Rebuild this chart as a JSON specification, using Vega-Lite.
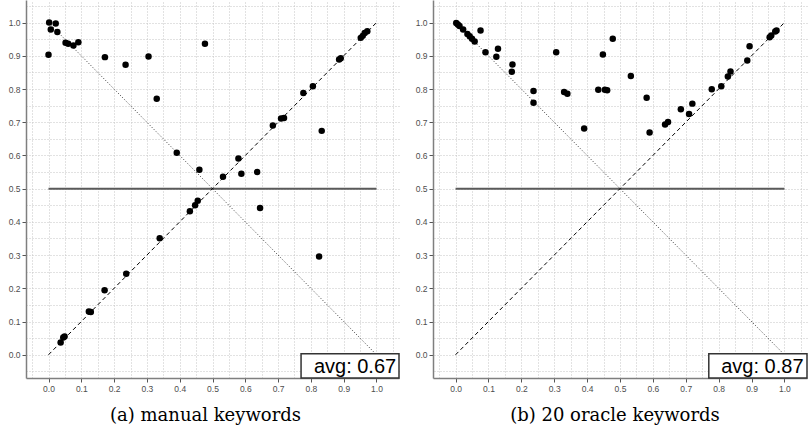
{
  "$schema": "https://vega.github.io/schema/vega-lite/v6.json",
  "padding": {"left": 8, "top": 0, "right": 0, "bottom": 0},
  "spacing": 15,
  "background": "white",
  "datasets": {
    "left": [
      {"x":0.002,"y":1.0},{"x":0.007,"y":0.979},{"x":0.022,"y":0.997},{"x":0.027,"y":0.972},{"x":0.0,"y":0.903},
      {"x":0.052,"y":0.939},{"x":0.06,"y":0.936},{"x":0.076,"y":0.931},{"x":0.091,"y":0.941},{"x":0.172,"y":0.896},
      {"x":0.235,"y":0.873},{"x":0.305,"y":0.898},{"x":0.33,"y":0.771},{"x":0.391,"y":0.608},{"x":0.46,"y":0.557},
      {"x":0.477,"y":0.936},{"x":0.972,"y":0.974},{"x":0.964,"y":0.969},{"x":0.952,"y":0.954},{"x":0.958,"y":0.96},
      {"x":0.891,"y":0.893},{"x":0.886,"y":0.889},{"x":0.806,"y":0.808},{"x":0.777,"y":0.788},{"x":0.718,"y":0.713},
      {"x":0.709,"y":0.711},{"x":0.684,"y":0.69},{"x":0.833,"y":0.674},{"x":0.579,"y":0.591},{"x":0.588,"y":0.545},
      {"x":0.636,"y":0.55},{"x":0.532,"y":0.536},{"x":0.645,"y":0.442},{"x":0.825,"y":0.296},{"x":0.037,"y":0.037},
      {"x":0.045,"y":0.052},{"x":0.049,"y":0.055},{"x":0.123,"y":0.13},{"x":0.129,"y":0.129},{"x":0.171,"y":0.194},
      {"x":0.237,"y":0.244},{"x":0.339,"y":0.351},{"x":0.431,"y":0.432},{"x":0.447,"y":0.45},{"x":0.455,"y":0.464}
    ],
    "right": [
      {"x":0.002,"y":0.999},{"x":0.007,"y":0.994},{"x":0.012,"y":0.99},{"x":0.023,"y":0.979},{"x":0.036,"y":0.966},
      {"x":0.043,"y":0.959},{"x":0.05,"y":0.951},{"x":0.058,"y":0.943},{"x":0.076,"y":0.976},{"x":0.091,"y":0.911},
      {"x":0.124,"y":0.897},{"x":0.129,"y":0.921},{"x":0.173,"y":0.874},{"x":0.171,"y":0.852},{"x":0.237,"y":0.794},
      {"x":0.237,"y":0.759},{"x":0.306,"y":0.911},{"x":0.33,"y":0.791},{"x":0.34,"y":0.786},{"x":0.391,"y":0.681},
      {"x":0.434,"y":0.798},{"x":0.478,"y":0.951},{"x":0.448,"y":0.904},{"x":0.454,"y":0.798},{"x":0.461,"y":0.796},
      {"x":0.533,"y":0.839},{"x":0.581,"y":0.774},{"x":0.59,"y":0.669},{"x":0.637,"y":0.693},{"x":0.646,"y":0.701},
      {"x":0.685,"y":0.739},{"x":0.71,"y":0.725},{"x":0.72,"y":0.756},{"x":0.779,"y":0.799},{"x":0.808,"y":0.808},
      {"x":0.828,"y":0.838},{"x":0.836,"y":0.853},{"x":0.887,"y":0.886},{"x":0.894,"y":0.929},{"x":0.955,"y":0.956},
      {"x":0.96,"y":0.961},{"x":0.972,"y":0.973},{"x":0.976,"y":0.976}
    ],
    "refs": [
      {"line":"identity","x":0,"y":0,"x2":1,"y2":1},
      {"line":"inverse","x":0,"y":1,"x2":1,"y2":0},
      {"line":"half","x":0,"y":0.5,"x2":1,"y2":0.5}
    ],
    "boxes": [
      {"panel":"a","label":"avg: 0.67","x":0.77,"x2":1.0686,"y":-0.07,"y2":0.003,"tx":1.06,"ty":-0.054},
      {"panel":"b","label":"avg: 0.87","x":0.77,"x2":1.0686,"y":-0.07,"y2":0.003,"tx":1.058,"ty":-0.054}
    ]
  },
  "hconcat": [
    {
      "width": 373,
      "height": 378,
      "title": {"text": "(a) manual keywords", "orient": "bottom", "dx": -7},
      "layer": [
        {
          "data": {"name": "refs"},
          "transform": [{"filter": "datum.line == 'half'"}],
          "mark": {"type": "rule", "color": "#5a5a5a", "strokeWidth": 2},
          "encoding": {
            "x": {"field": "x", "type": "quantitative",
                  "scale": {"domain": [-0.0686, 1.0686], "nice": false, "zero": false},
                  "axis": {"orient": "bottom", "grid": false, "format": ".1f", "values": [0,0.1,0.2,0.3,0.4,0.5,0.6,0.7,0.8,0.9,1]}},
            "x2": {"field": "x2"},
            "y": {"field": "y", "type": "quantitative",
                  "scale": {"domain": [-0.07, 1.068], "nice": false, "zero": false},
                  "axis": {"orient": "left", "grid": false, "format": ".1f", "values": [0,0.1,0.2,0.3,0.4,0.5,0.6,0.7,0.8,0.9,1]}},
            "y2": {"field": "y2"}
          }
        },
        {
          "data": {"name": "refs"},
          "transform": [{"filter": "datum.line == 'identity'"}],
          "mark": {"type": "rule", "color": "#000", "strokeWidth": 1, "strokeDash": [4, 3]},
          "encoding": {
            "x": {"field": "x", "type": "quantitative",
                  "axis": {"orient": "top", "grid": true, "domain": false, "ticks": false, "labels": false, "minExtent": 0, "maxExtent": 0,
                           "values": [-0.05,0,0.05,0.1,0.15,0.2,0.25,0.3,0.35,0.4,0.45,0.5,0.55,0.6,0.65,0.7,0.75,0.8,0.85,0.9,0.95,1,1.05]}},
            "x2": {"field": "x2"},
            "y": {"field": "y", "type": "quantitative",
                  "axis": {"orient": "right", "grid": true, "domain": false, "ticks": false, "labels": false, "minExtent": 0, "maxExtent": 0,
                           "values": [-0.05,0,0.05,0.1,0.15,0.2,0.25,0.3,0.35,0.4,0.45,0.5,0.55,0.6,0.65,0.7,0.75,0.8,0.85,0.9,0.95,1,1.05]}},
            "y2": {"field": "y2"}
          }
        },
        {
          "data": {"name": "refs"},
          "transform": [{"filter": "datum.line == 'inverse'"}],
          "mark": {"type": "rule", "color": "#333", "strokeWidth": 1, "strokeDash": [1, 2]},
          "encoding": {"x": {"field": "x", "type": "quantitative", "axis": null}, "x2": {"field": "x2"}, "y": {"field": "y", "type": "quantitative", "axis": null}, "y2": {"field": "y2"}}
        },
        {
          "data": {"name": "left"},
          "mark": {"type": "point", "filled": true, "color": "#000", "size": 42, "opacity": 1},
          "encoding": {"x": {"field": "x", "type": "quantitative", "axis": null}, "y": {"field": "y", "type": "quantitative", "axis": null}}
        },
        {
          "data": {"name": "boxes"},
          "transform": [{"filter": "datum.panel == 'a'"}],
          "mark": {"type": "rect", "fill": "white", "stroke": "#333", "strokeWidth": 1.5},
          "encoding": {"x": {"field": "x", "type": "quantitative", "axis": null}, "x2": {"field": "x2"}, "y": {"field": "y", "type": "quantitative", "axis": null}, "y2": {"field": "y2"}}
        },
        {
          "data": {"name": "boxes"},
          "transform": [{"filter": "datum.panel == 'a'"}],
          "mark": {"type": "text", "font": "Liberation Sans", "fontSize": 20, "align": "right", "baseline": "alphabetic", "color": "#000"},
          "encoding": {"x": {"field": "tx", "type": "quantitative", "axis": null}, "y": {"field": "ty", "type": "quantitative", "axis": null}, "text": {"field": "label"}}
        },
        {
          "mark": {"type": "rule", "color": "#808080", "strokeWidth": 1.5},
          "encoding": {"x": {"datum": 1.0686, "type": "quantitative", "axis": null}}
        }
      ]
    },
    {
      "width": 374,
      "height": 378,
      "title": {"text": "(b) 20 oracle keywords", "orient": "bottom", "dx": -5},
      "layer": [
        {
          "data": {"name": "refs"},
          "transform": [{"filter": "datum.line == 'half'"}],
          "mark": {"type": "rule", "color": "#5a5a5a", "strokeWidth": 2},
          "encoding": {
            "x": {"field": "x", "type": "quantitative",
                  "scale": {"domain": [-0.0686, 1.0686], "nice": false, "zero": false},
                  "axis": {"orient": "bottom", "grid": false, "format": ".1f", "values": [0,0.1,0.2,0.3,0.4,0.5,0.6,0.7,0.8,0.9,1]}},
            "x2": {"field": "x2"},
            "y": {"field": "y", "type": "quantitative",
                  "scale": {"domain": [-0.07, 1.068], "nice": false, "zero": false},
                  "axis": {"orient": "left", "grid": false, "format": ".1f", "values": [0,0.1,0.2,0.3,0.4,0.5,0.6,0.7,0.8,0.9,1]}},
            "y2": {"field": "y2"}
          }
        },
        {
          "data": {"name": "refs"},
          "transform": [{"filter": "datum.line == 'identity'"}],
          "mark": {"type": "rule", "color": "#000", "strokeWidth": 1, "strokeDash": [4, 3]},
          "encoding": {
            "x": {"field": "x", "type": "quantitative",
                  "axis": {"orient": "top", "grid": true, "domain": false, "ticks": false, "labels": false, "minExtent": 0, "maxExtent": 0,
                           "values": [-0.05,0,0.05,0.1,0.15,0.2,0.25,0.3,0.35,0.4,0.45,0.5,0.55,0.6,0.65,0.7,0.75,0.8,0.85,0.9,0.95,1,1.05]}},
            "x2": {"field": "x2"},
            "y": {"field": "y", "type": "quantitative",
                  "axis": {"orient": "right", "grid": true, "domain": false, "ticks": false, "labels": false, "minExtent": 0, "maxExtent": 0,
                           "values": [-0.05,0,0.05,0.1,0.15,0.2,0.25,0.3,0.35,0.4,0.45,0.5,0.55,0.6,0.65,0.7,0.75,0.8,0.85,0.9,0.95,1,1.05]}},
            "y2": {"field": "y2"}
          }
        },
        {
          "data": {"name": "refs"},
          "transform": [{"filter": "datum.line == 'inverse'"}],
          "mark": {"type": "rule", "color": "#333", "strokeWidth": 1, "strokeDash": [1, 2]},
          "encoding": {"x": {"field": "x", "type": "quantitative", "axis": null}, "x2": {"field": "x2"}, "y": {"field": "y", "type": "quantitative", "axis": null}, "y2": {"field": "y2"}}
        },
        {
          "data": {"name": "right"},
          "mark": {"type": "point", "filled": true, "color": "#000", "size": 42, "opacity": 1},
          "encoding": {"x": {"field": "x", "type": "quantitative", "axis": null}, "y": {"field": "y", "type": "quantitative", "axis": null}}
        },
        {
          "data": {"name": "boxes"},
          "transform": [{"filter": "datum.panel == 'b'"}],
          "mark": {"type": "rect", "fill": "white", "stroke": "#333", "strokeWidth": 1.5},
          "encoding": {"x": {"field": "x", "type": "quantitative", "axis": null}, "x2": {"field": "x2"}, "y": {"field": "y", "type": "quantitative", "axis": null}, "y2": {"field": "y2"}}
        },
        {
          "data": {"name": "boxes"},
          "transform": [{"filter": "datum.panel == 'b'"}],
          "mark": {"type": "text", "font": "Liberation Sans", "fontSize": 20, "align": "right", "baseline": "alphabetic", "color": "#000"},
          "encoding": {"x": {"field": "tx", "type": "quantitative", "axis": null}, "y": {"field": "ty", "type": "quantitative", "axis": null}, "text": {"field": "label"}}
        }
      ]
    }
  ],
  "config": {
    "view": {"stroke": null},
    "axis": {
      "title": null,
      "domainColor": "#7f7f7f",
      "domainWidth": 1.5,
      "tickColor": "#555",
      "tickSize": 4,
      "tickWidth": 1,
      "labelFont": "Liberation Sans",
      "labelFontSize": 8.5,
      "labelColor": "#4d4d4d",
      "labelPadding": 2,
      "labelOverlap": false,
      "labelFlush": false,
      "gridColor": "#c4c4c4",
      "gridDash": [1, 2],
      "gridWidth": 1
    },
    "title": {"font": "DejaVu Serif", "fontSize": 18, "fontWeight": "normal", "color": "#000", "offset": 14}
  }
}
